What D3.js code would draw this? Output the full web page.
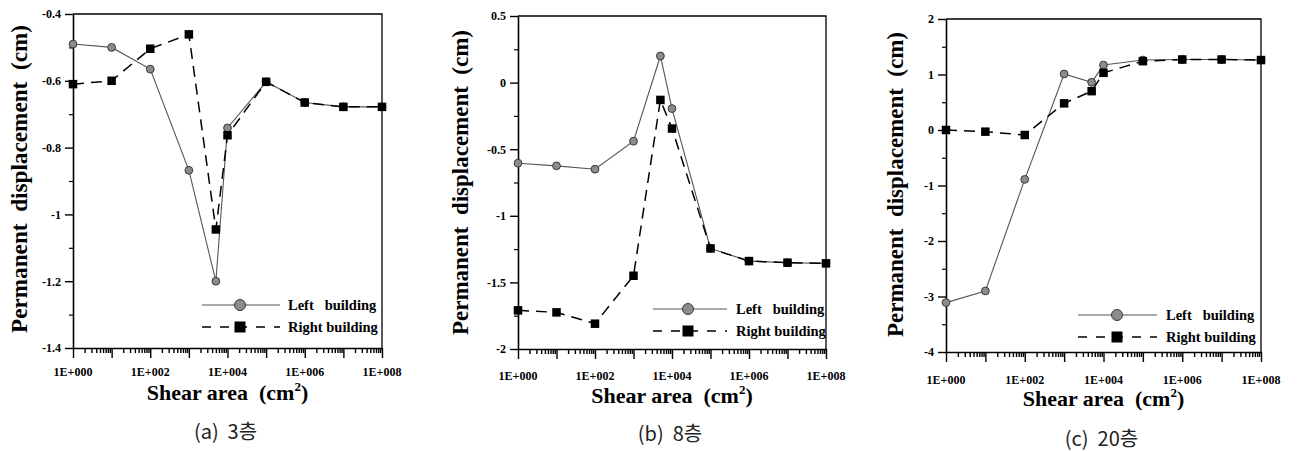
<!DOCTYPE html>
<html>
<head>
<meta charset="utf-8">
<script src="https://cdn.jsdelivr.net/npm/d3@7"></script>
<style>
  body { margin: 0; background: #fff; }
  svg { display: block; }
</style>
</head>
<body>
<svg id="chart" width="1298" height="451"></svg>
<script>
// Shear area (cm²) sampled along the x axis
const shearArea = [1, 10, 100, 1000, 5000, 1e4, 1e5, 1e6, 1e7, 1e8];

// Permanent displacement (cm): 3-storey case
const left3 = [-0.49, -0.50, -0.565, -0.868, -1.20, -0.741, -0.603, -0.665, -0.678, -0.678];
const right3 = [-0.61, -0.60, -0.504, -0.461, -1.045, -0.763, -0.603, -0.665, -0.678, -0.678];

// 8-storey case
const left8 = [-0.605, -0.625, -0.65, -0.44, 0.20, -0.195, -1.245, -1.34, -1.352, -1.357];
const right8 = [-1.71, -1.725, -1.81, -1.45, -0.13, -0.345, -1.245, -1.34, -1.352, -1.357];

// 20-storey case
const left20 = [-3.11, -2.90, -0.89, 1.01, 0.86, 1.17, 1.26, 1.27, 1.27, 1.26];
const right20 = [0.00, -0.03, -0.09, 0.48, 0.70, 1.03, 1.24, 1.27, 1.27, 1.26];

// Axis ticks
const xMajorTicks = [1, 1e1, 1e2, 1e3, 1e4, 1e5, 1e6, 1e7, 1e8];
const xTickLabels = ["1E+000", "1E+002", "1E+004", "1E+006", "1E+008"];
const yTicks3 = [-1.4, -1.2, -1, -0.8, -0.6, -0.4];
const yTicks8 = [-2, -1.5, -1, -0.5, 0, 0.5];
const yTicks20 = [-4, -3, -2, -1, 0, 1, 2];

const seriesNames = ["Left   building", "Right building"];
const captions = ["(a)  3층", "(b)  8층", "(c)  20층"];

const panels = [
  { left: left3, right: right3, yTicks: yTicks3, minorStep: 0.1, caption: captions[0],
    x0: 73, x1: 382, y0: 14, y1: 348, titleBase: 27, titleSize: 24, titleY0: 25, titleY1: 333,
    tickLabelY: 376, xTitleY: 400, captionY: 439,
    legX0: 202, legX1: 280, legMark: 240, legText: 288, legY: 305, legGap: 22 },
  { left: left8, right: right8, yTicks: yTicks8, minorStep: 0.25, caption: captions[1],
    x0: 518, x1: 826, y0: 16, y1: 349, titleBase: 468, titleSize: 24, titleY0: 30, titleY1: 335,
    tickLabelY: 380, xTitleY: 403, captionY: 441,
    legX0: 653, legX1: 727, legMark: 688, legText: 736, legY: 309, legGap: 22 },
  { left: left20, right: right20, yTicks: yTicks20, minorStep: 0.5, caption: captions[2],
    x0: 946, x1: 1261, y0: 19, y1: 352, titleBase: 903, titleSize: 24, titleY0: 32, titleY1: 337,
    tickLabelY: 384, xTitleY: 406, captionY: 446,
    legX0: 1078, legX1: 1157, legMark: 1117, legText: 1166, legY: 315, legGap: 22 }
];

const svg = d3.select("#chart");
const serif = "'Liberation Serif', 'Times New Roman', serif";
const fmt = d => String(+d.toFixed(2));

function drawCircle(g, cx, cy, r) {
  g.append("circle").attr("cx", cx).attr("cy", cy).attr("r", r)
    .attr("fill", "#8c8c8c").attr("stroke", "#3a3a3a").attr("stroke-width", 1);
}
function drawSquare(g, cx, cy, s) {
  g.append("rect").attr("x", cx - s / 2).attr("y", cy - s / 2)
    .attr("width", s).attr("height", s).attr("fill", "#000");
}

panels.forEach(p => {
  const g = svg.append("g");
  const x = d3.scaleLog().domain([1, 1e8]).range([p.x0, p.x1]);
  const yDom = d3.extent(p.yTicks);
  const y = d3.scaleLinear().domain(yDom).range([p.y1, p.y0]);

  // frame (top and right)
  g.append("path")
    .attr("d", `M${p.x0},${p.y0}H${p.x1}V${p.y1}`)
    .attr("fill", "none").attr("stroke", "#000").attr("stroke-width", 1.3);

  // minor y ticks
  const yMinor = d3.range(yDom[0], yDom[1] + 1e-9, p.minorStep)
    .filter(v => !p.yTicks.some(t => Math.abs(t - v) < 1e-6));
  g.append("g").attr("transform", `translate(${p.x0},0)`)
    .call(d3.axisLeft(y).tickValues(yMinor).tickSize(4).tickFormat(""))
    .call(a => a.select(".domain").remove())
    .selectAll("line").attr("stroke-width", 1.2);

  // major y axis
  const ya = g.append("g").attr("transform", `translate(${p.x0},0)`)
    .call(d3.axisLeft(y).tickValues(p.yTicks).tickSize(8).tickPadding(4).tickSizeOuter(0).tickFormat(fmt));
  ya.select(".domain").attr("stroke-width", 1.6);
  ya.selectAll("line").attr("stroke-width", 1.4);
  ya.selectAll("text").attr("font-family", serif).attr("font-weight", "bold")
    .attr("font-size", 12).attr("fill", "#000");

  // minor x ticks (2..9 within each decade)
  const xMinor = [];
  for (let k = 0; k < 8; k++) for (let m = 2; m <= 9; m++) xMinor.push(m * Math.pow(10, k));
  g.append("g").attr("transform", `translate(0,${p.y1})`)
    .call(d3.axisBottom(x).tickValues(xMinor).tickSize(5).tickFormat(""))
    .call(a => a.select(".domain").remove())
    .selectAll("line").attr("stroke-width", 1.4);

  // major x axis
  const xa = g.append("g").attr("transform", `translate(0,${p.y1})`)
    .call(d3.axisBottom(x).tickValues(xMajorTicks).tickSize(10).tickSizeOuter(0).tickFormat(""));
  xa.select(".domain").attr("stroke-width", 1.6);
  xa.selectAll("line").attr("stroke-width", 1.4);

  // decade labels on even exponents
  g.selectAll(".xlab").data(xTickLabels).enter().append("text")
    .attr("x", d => x(+d.replace("E+", "e")))
    .attr("y", p.tickLabelY)
    .attr("text-anchor", "middle")
    .attr("font-family", serif).attr("font-weight", "bold").attr("font-size", 12)
    .text(d => d);

  // axis titles
  const xt = g.append("text")
    .attr("x", x(1e4)).attr("y", p.xTitleY).attr("text-anchor", "middle")
    .attr("font-family", serif).attr("font-weight", "bold").attr("font-size", 22)
    .style("white-space", "pre");
  xt.append("tspan").text("Shear area  (cm");
  xt.append("tspan").attr("font-size", 13).attr("dy", -9).text("2");
  xt.append("tspan").attr("dy", 9).text(")");

  const ty = (p.titleY0 + p.titleY1) / 2;
  g.append("text")
    .attr("transform", `translate(${p.titleBase},${ty}) rotate(-90)`)
    .attr("text-anchor", "middle")
    .attr("font-family", serif).attr("font-weight", "bold").attr("font-size", p.titleSize)
    .attr("textLength", p.titleY1 - p.titleY0).attr("lengthAdjust", "spacingAndGlyphs")
    .style("white-space", "pre")
    .text("Permanent  displacement  (cm)");

  // caption
  g.append("text")
    .attr("x", x(1e4) - 2).attr("y", p.captionY).attr("text-anchor", "middle")
    .attr("font-family", "'Noto Sans CJK KR', sans-serif").attr("font-size", 20)
    .attr("fill", "#222").style("white-space", "pre")
    .text(p.caption);

  // series lines
  const line = d3.line().x((d, i) => x(shearArea[i])).y(d => y(d));
  g.append("path").datum(p.left).attr("d", line)
    .attr("fill", "none").attr("stroke", "#555").attr("stroke-width", 1.1);
  p.left.forEach((v, i) => drawCircle(g, x(shearArea[i]), y(v), 3.9));

  g.append("path").datum(p.right).attr("d", line)
    .attr("fill", "none").attr("stroke", "#000").attr("stroke-width", 1.5)
    .attr("stroke-dasharray", "11,7");
  p.right.forEach((v, i) => drawSquare(g, x(shearArea[i]), y(v), 8.5));

  // legend
  const l1 = p.legY, l2 = p.legY + p.legGap;
  g.append("line").attr("x1", p.legX0).attr("x2", p.legX1).attr("y1", l1).attr("y2", l1)
    .attr("stroke", "#555").attr("stroke-width", 1.1);
  drawCircle(g, p.legMark, l1, 5.5);
  g.append("line").attr("x1", p.legX0).attr("x2", p.legX1).attr("y1", l2).attr("y2", l2)
    .attr("stroke", "#000").attr("stroke-width", 1.5).attr("stroke-dasharray", "9,9");
  drawSquare(g, p.legMark, l2, 11);
  [l1, l2].forEach((ly, i) => {
    g.append("text").attr("x", p.legText).attr("y", ly + 5)
      .attr("font-family", serif).attr("font-weight", "bold").attr("font-size", 14.5)
      .style("white-space", "pre")
      .text(seriesNames[i]);
  });
});
</script>
</body>
</html>
